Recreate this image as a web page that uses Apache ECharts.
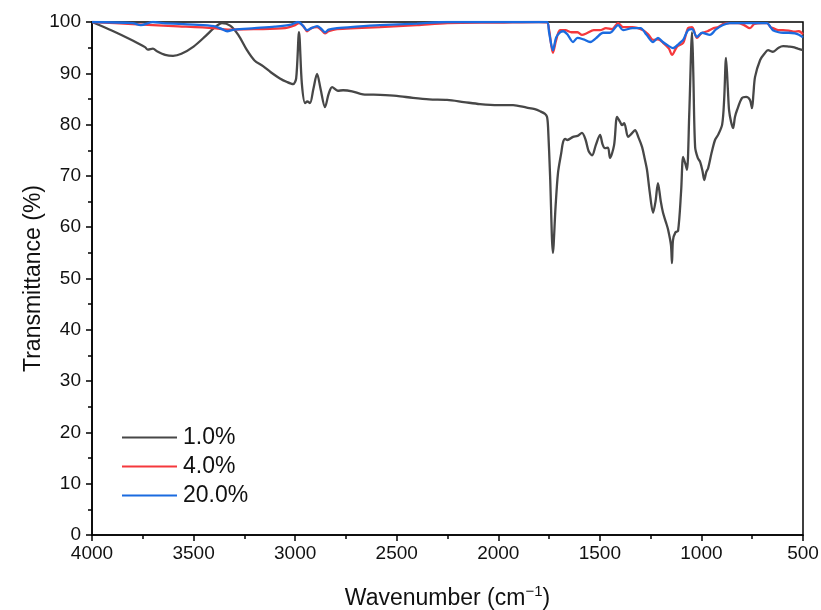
<!DOCTYPE html>
<html>
<head>
<meta charset="utf-8">
<script src="https://cdn.jsdelivr.net/npm/echarts@6/dist/echarts.min.js"></script>
<style>html,body{margin:0;padding:0;background:#fff}#c{width:821px;height:610px}</style>
</head>
<body>
<div id="c"></div>
<script>
const seriesNames = ['1.0%', '4.0%', '20.0%'];
const seriesColors = ['#474747', '#f5383c', '#1a6be0'];

// 1.0%
const wn1 = [4000,3900,3800,3739,3725,3700,3680,3640,3601,3560,3500,3440,3400,3360,3320,3280,3237,3200,3158,3120,3075,3040,3010,2995,2981,2967,2951,2940,2927,2910,2892,2875,2853,2835,2818,2790,2764,2720,2666,2582,2500,2420,2340,2252,2170,2090,2000,1927,1860,1820,1794,1770,1760,1755,1745,1731,1718,1706,1690,1681,1670,1660,1632,1610,1588,1570,1555,1538,1520,1499,1487,1475,1460,1450,1430,1415,1400,1391,1380,1361,1345,1327,1310,1292,1280,1268,1255,1238,1226,1214,1200,1189,1175,1164,1150,1145,1140,1128,1115,1100,1090,1080,1071,1060,1046,1040,1031,1018,1006,995,986,976,967,950,933,918,898,888,879,870,864,854,844,835,825,800,780,761,751,744,736,711,690,672,648,620,598,570,549,525,500];
const tr1 = [100,98.3,96.4,95.1,94.6,94.8,94.3,93.6,93.4,93.8,95.2,97.3,98.8,99.8,99.3,97.5,94.5,92.5,91.4,90.2,89,88.3,87.9,89,98,88,84.2,84.5,84.2,87,89.9,87,83.4,86,87.3,86.6,86.7,86.5,85.9,85.8,85.6,85.2,84.9,84.8,84.4,84,83.8,83.8,83.3,83,82.6,82.1,81.5,79.5,70,55,64,70.6,74.5,76.6,77.2,77,77.6,77.8,78.4,77,74.8,74,76,78,76.2,75.4,75.5,73.5,76,81.5,80.5,79.9,80.3,77.6,78.2,78.9,77.5,75.6,73.5,71.2,67,62.8,65,68.6,65,62.8,61,59.5,56.5,53,57.5,59,59.3,67,73.7,72.5,71.2,82,98,90,75.6,73.5,72.7,71,69.2,70.8,71.5,74.5,77,78,80,85,93,87,82.8,80.5,79.3,81.5,82.8,85.2,85.4,84.8,83.2,86,89.3,92.6,93.8,94.5,94.2,95,95.3,95.2,95.1,94.8,94.5];

// 4.0%
const wn2 = [4000,3800,3600,3400,3330,3200,3050,3000,2981,2960,2941,2920,2892,2870,2853,2835,2794,2700,2582,2400,2250,2000,1800,1760,1750,1731,1715,1696,1670,1640,1610,1588,1565,1530,1499,1470,1440,1410,1386,1340,1287,1260,1238,1214,1190,1160,1145,1120,1090,1066,1046,1022,1000,970,940,917,894,860,820,790,761,740,700,677,660,648,620,598,570,540,520,500];
const tr2 = [100,99.6,99.2,98.8,98.5,98.6,98.8,99.4,99.8,99.2,98.2,98.8,99,98.4,97.8,98.2,98.6,98.8,99,99.4,99.8,99.9,100,99.9,98.5,94,96.5,98.4,98.4,98,98,97.5,97.8,98.4,98.4,98.8,98.6,99.8,99,99,98.4,97.5,96.5,96.6,96,94.8,93.6,95.2,95.9,98.8,99,96.9,97.8,98.2,98.8,99,99.6,99.8,99.8,99.4,98.8,99.6,99.8,99.8,99,98.8,98.4,98.4,98.3,98.1,98.2,97.6];

// 20.0%
const wn3 = [4000,3800,3760,3700,3650,3500,3400,3360,3335,3300,3200,3100,3020,2985,2960,2941,2920,2892,2870,2853,2835,2794,2700,2582,2400,2252,2000,1800,1760,1750,1731,1715,1696,1680,1660,1632,1610,1580,1548,1520,1484,1450,1410,1386,1340,1300,1270,1238,1214,1190,1160,1140,1110,1090,1066,1046,1022,997,958,930,894,860,800,760,720,677,660,648,620,598,570,540,520,500];
const tr3 = [100,99.8,99.4,100,99.8,99.5,99.2,98.6,98.2,98.5,98.8,99.1,99.5,100,99.2,98.4,98.8,99.2,98.6,98,98.5,98.8,99.1,99.4,99.7,100,100,100,100,98,94.5,97,98,98.2,97.6,96.1,96.9,96.6,96.1,96.8,97.9,97.9,99.4,98.4,98.8,98.8,97.5,96.1,96.9,96.1,95.3,94.9,95.8,96.5,98.4,98.6,97.1,97.9,97.5,98.5,99.4,99.8,99.8,99.8,99.8,99.8,99,98.4,98,97.9,97.9,97.8,97.5,97];

const xTicks = [4000, 3500, 3000, 2500, 2000, 1500, 1000, 500];
const yTicks = [0, 10, 20, 30, 40, 50, 60, 70, 80, 90, 100];

const zip = (a, b) => a.map((v, i) => [v, b[i]]);
const allW = [wn1, wn2, wn3];
const allT = [tr1, tr2, tr3];

const font = 'Liberation Sans, Arial, sans-serif';
const chart = echarts.init(document.getElementById('c'), null, {renderer: 'canvas'});
chart.setOption({
  animation: false,
  backgroundColor: '#fff',
  grid: {left: 92, right: 18, top: 22, bottom: 75, show: true, borderColor: '#000', borderWidth: 1.5,
    backgroundColor: 'transparent', containLabel: false, outerBoundsMode: 'none'},
  legend: {
    orient: 'vertical', left: 122, top: 426, padding: 0,
    itemWidth: 55, itemHeight: 2, itemGap: 6,
    textStyle: {fontFamily: font, fontSize: 23, color: '#111', padding: [0, 0, 0, 1], lineHeight: 23},
    data: seriesNames.map(n => ({name: n, icon: 'rect'}))
  },
  xAxis: {
    type: 'value', inverse: true, min: xTicks[xTicks.length - 1], max: xTicks[0], interval: 500,
    name: 'Wavenumber (cm{sup|\u22121})', nameLocation: 'middle', nameGap: 49, nameMoveOverlap: false,
    nameTextStyle: {fontFamily: font, fontSize: 23, color: '#111',
      rich: {sup: {fontFamily: font, fontSize: 15, color: '#111', padding: [0, 0, 14, 0]}}},
    axisLine: {show: true, lineStyle: {color: '#000', width: 1.5}},
    axisTick: {show: true, length: 6, lineStyle: {color: '#000', width: 1.5}},
    minorTick: {show: true, splitNumber: 2, length: 4, lineStyle: {color: '#000', width: 1.5}},
    axisLabel: {fontFamily: font, fontSize: 19, color: '#111', margin: 9, formatter: v => String(v)},
    splitLine: {show: false}
  },
  yAxis: {
    type: 'value', min: yTicks[0], max: yTicks[yTicks.length - 1], interval: 10,
    name: 'Transmittance (%)', nameLocation: 'middle', nameGap: 47, nameMoveOverlap: false,
    nameTextStyle: {fontFamily: font, fontSize: 23, color: '#111'},
    axisLine: {show: true, lineStyle: {color: '#000', width: 1.5}},
    axisTick: {show: true, length: 6, lineStyle: {color: '#000', width: 1.5}},
    minorTick: {show: true, splitNumber: 2, length: 4, lineStyle: {color: '#000', width: 1.5}},
    axisLabel: {fontFamily: font, fontSize: 19, color: '#111', margin: 11},
    splitLine: {show: false}
  },
  series: seriesNames.map((n, i) => ({
    name: n, type: 'line', data: zip(allW[i], allT[i]),
    showSymbol: false, symbol: 'none', smooth: 0.3,
    lineStyle: {color: seriesColors[i], width: 2.3},
    itemStyle: {color: seriesColors[i]},
    z: 2 + i
  }))
});
</script>
</body>
</html>
